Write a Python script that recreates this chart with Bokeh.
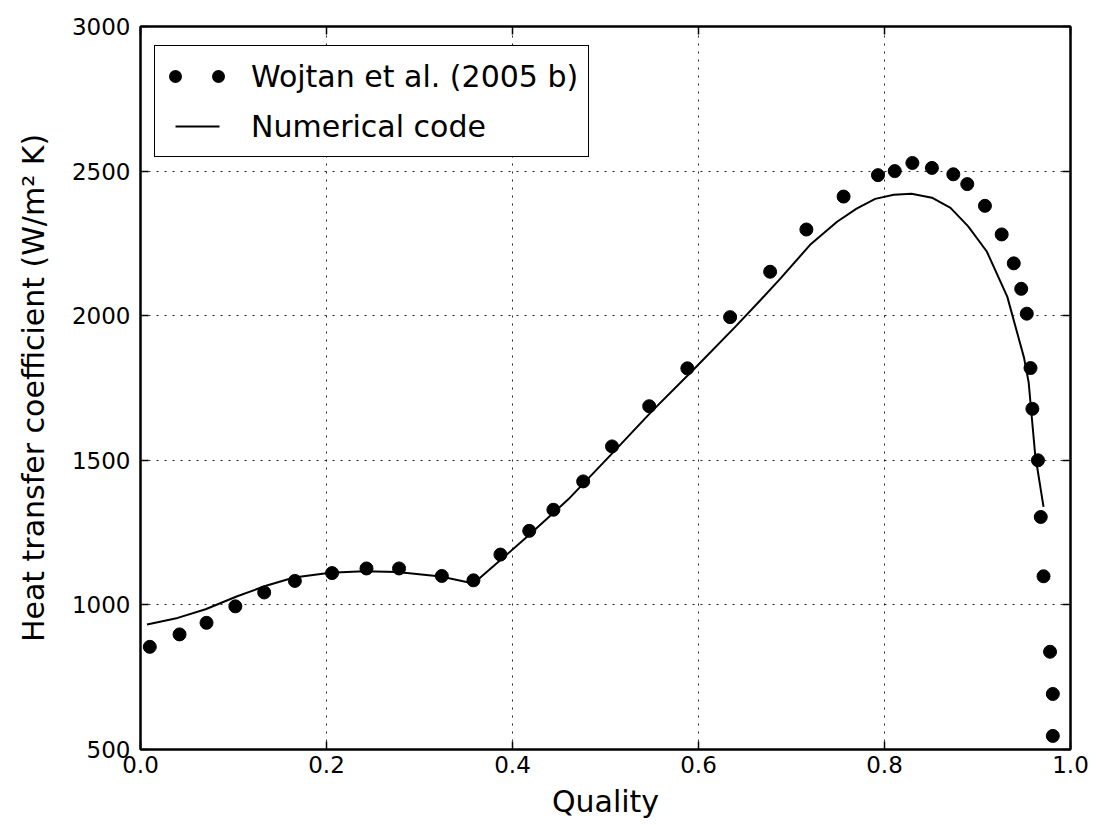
from bokeh.plotting import figure
from bokeh.models import (Legend, LegendItem, FixedTicker, LinearAxis, Range1d,
                          NumeralTickFormatter, CustomJSTickFormatter)
from bokeh.embed import file_html
from bokeh.resources import INLINE

# ---- data ----
exp_x = [0.010, 0.042, 0.071, 0.102, 0.133, 0.166, 0.206, 0.243, 0.278, 0.324,
         0.358, 0.387, 0.418, 0.444, 0.476, 0.507, 0.547, 0.588, 0.634, 0.677,
         0.716, 0.756, 0.793, 0.811, 0.830, 0.851, 0.874, 0.889, 0.908, 0.926,
         0.939, 0.947, 0.953, 0.957, 0.959, 0.965, 0.968, 0.971, 0.978, 0.981,
         0.981]
exp_y = [855, 898, 938, 995, 1043, 1083, 1110, 1126, 1126, 1100,
         1085, 1174, 1256, 1329, 1427, 1548, 1687, 1818, 1995, 2152,
         2298, 2412, 2486, 2500, 2528, 2511, 2489, 2455, 2380, 2281,
         2181, 2093, 2007, 1819, 1678, 1500, 1304, 1099, 838, 692,
         547]

num_x = [0.007, 0.040, 0.070, 0.104, 0.135, 0.165, 0.204, 0.240, 0.276, 0.323,
         0.358, 0.380, 0.419, 0.460, 0.509, 0.550, 0.595, 0.640, 0.667, 0.688,
         0.720, 0.749, 0.770, 0.790, 0.810, 0.829, 0.851, 0.871, 0.890, 0.910,
         0.932, 0.950, 0.955, 0.962, 0.971]
num_y = [932, 955, 985, 1030, 1066, 1095, 1111, 1116, 1114, 1098,
         1074, 1135, 1245, 1365, 1530, 1670, 1815, 1963, 2055, 2128,
         2245, 2325, 2370, 2404, 2418, 2422, 2408, 2373, 2309, 2222,
         2066, 1855, 1770, 1520, 1339]

x_ticks = [0.0, 0.2, 0.4, 0.6, 0.8, 1.0]
y_ticks = [500, 1000, 1500, 2000, 2500, 3000]

series_labels = ["Wojtan et al. (2005 b)", "Numerical code"]
x_label = "Quality"
y_label = "Heat transfer coefficient (W/m\u00b2 K)"

FONT = "DejaVu Sans"

p = figure(width=1096, height=825,
           x_range=Range1d(0, 1), y_range=Range1d(500, 3000),
           output_backend="svg", toolbar_location=None,
           min_border_left=140, min_border_right=26,
           min_border_top=26, min_border_bottom=76)
p.background_fill_color = "white"
p.border_fill_color = "white"
p.outline_line_color = "black"
p.outline_line_width = 2

xt = FixedTicker(ticks=x_ticks, minor_ticks=[])
yt = FixedTicker(ticks=y_ticks, minor_ticks=[])

def style_axis(ax, labels=True):
    ax.axis_line_color = "black"
    ax.axis_line_width = 2
    ax.major_tick_in = 8
    ax.major_tick_out = 0
    ax.minor_tick_in = 0
    ax.minor_tick_out = 0
    ax.major_tick_line_color = "black"
    ax.major_tick_line_width = 1.5
    if labels:
        ax.major_label_text_font = FONT
        ax.major_label_text_font_size = "23px"
        ax.major_label_text_color = "black"
        ax.axis_label_text_font = FONT
        ax.axis_label_text_font_size = "30px"
        ax.axis_label_text_font_style = "normal"
        ax.axis_label_text_color = "black"
    else:
        ax.formatter = CustomJSTickFormatter(code="return '';")
        ax.major_label_standoff = 0

p.xaxis.ticker = xt
p.yaxis.ticker = yt
style_axis(p.xaxis[0])
style_axis(p.yaxis[0])
p.xaxis.formatter = NumeralTickFormatter(format="0.0")
p.xaxis.axis_label = x_label
p.yaxis.axis_label = y_label
p.xaxis.major_label_standoff = 6
p.xaxis.axis_label_standoff = 8
p.yaxis.major_label_standoff = 10
p.yaxis.axis_label_standoff = 18

top_ax = LinearAxis(ticker=xt)
right_ax = LinearAxis(ticker=yt)
style_axis(top_ax, labels=False)
style_axis(right_ax, labels=False)
p.add_layout(top_ax, "above")
p.add_layout(right_ax, "right")

for g, t in ((p.xgrid, xt), (p.ygrid, yt)):
    g.ticker = t
    g.grid_line_color = "black"
    g.grid_line_width = 1
    g.grid_line_dash = "2 6"
    g.grid_line_alpha = 0.85

pts = p.scatter(exp_x, exp_y, size=13, color="black")
num = p.line(num_x, num_y, line_width=2, color="black")

# legend-only glyphs (hidden in the plot): two round dots, and a short line
dots = p.line(exp_x, exp_y, line_width=13, line_cap="round",
              line_dash="0 43", line_dash_offset=33, color="black",
              visible=False)
short_line = p.line(num_x, num_y, line_width=2, color="black",
                    line_dash="0 10 44 100", visible=False)

legend = Legend(items=[LegendItem(label=series_labels[0], renderers=[dots]),
                       LegendItem(label=series_labels[1], renderers=[short_line])],
                location=(14, 592))
legend.label_text_font = FONT
legend.label_text_font_size = "30px"
legend.label_text_color = "black"
legend.label_text_baseline = "middle"
legend.glyph_width = 64
legend.glyph_height = 40
legend.label_height = 40
legend.label_standoff = 22
legend.spacing = 10
legend.padding = 10
legend.margin = 0
legend.border_line_color = "black"
legend.border_line_alpha = 1
legend.border_line_width = 1.5
legend.background_fill_color = "white"
legend.background_fill_alpha = 1
p.add_layout(legend, "center")

open("out.html", "w").write(file_html(p, INLINE))
